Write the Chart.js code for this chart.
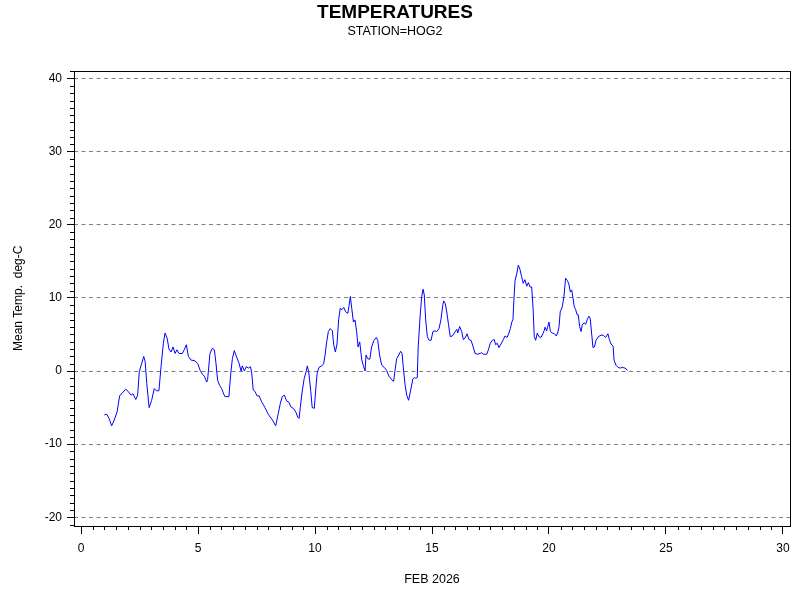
<!DOCTYPE html>
<html>
<head>
    <title>Temperatures</title>
    <script src="https://cdn.jsdelivr.net/npm/chart.js"></script>
    <style>
        body {
            margin: 0;
            background-color: #ffffff;
        }
        canvas {
            display: block;
        }
    </style>
</head>
<body>
    <canvas id="chart" width="800" height="600"></canvas>

    <script>
        // day of month (FEB 2026) and mean temperature
        const days = [
            1.00, 1.10, 1.20, 1.31, 1.42, 1.54, 1.65, 1.76, 1.91, 2.02, 2.14, 2.22, 2.34, 2.42, 2.49, 2.59, 2.68, 2.74, 2.81, 2.91,
            3.02, 3.13, 3.22, 3.33, 3.42, 3.52, 3.59, 3.68, 3.76, 3.85, 3.93, 4.02, 4.10, 4.19, 4.33, 4.41, 4.50, 4.59, 4.70, 4.87,
            4.99, 5.09, 5.18, 5.27, 5.37, 5.41, 5.51, 5.61, 5.70, 5.77, 5.84, 5.93, 6.01, 6.08, 6.15, 6.32, 6.40, 6.47, 6.55, 6.65,
            6.75, 6.84, 6.89, 6.98, 7.06, 7.15, 7.24, 7.29, 7.36, 7.44, 7.52, 7.61, 7.72, 7.86, 8.00, 8.18, 8.32, 8.43, 8.52, 8.60,
            8.69, 8.79, 8.89, 8.97, 9.07, 9.18, 9.26, 9.32, 9.37, 9.46, 9.54, 9.62, 9.67, 9.73, 9.82, 9.88, 9.97, 10.03, 10.09, 10.17,
            10.29, 10.37, 10.43, 10.50, 10.57, 10.65, 10.74, 10.80, 10.87, 10.94, 11.01, 11.08, 11.15, 11.23, 11.31, 11.40, 11.45, 11.51, 11.57, 11.64,
            11.71, 11.78, 11.84, 11.91, 12.00, 12.06, 12.14, 12.18, 12.25, 12.34, 12.42, 12.52, 12.62, 12.68, 12.76, 12.85, 12.96, 13.06, 13.16, 13.28,
            13.36, 13.42, 13.49, 13.58, 13.66, 13.72, 13.77, 13.85, 13.92, 14.00, 14.09, 14.18, 14.24, 14.30, 14.37, 14.41, 14.49, 14.56, 14.62, 14.67,
            14.73, 14.80, 14.88, 14.96, 15.04, 15.13, 15.20, 15.30, 15.38, 15.46, 15.50, 15.57, 15.63, 15.70, 15.78, 15.87, 15.95, 16.06, 16.10, 16.18,
            16.27, 16.34, 16.41, 16.50, 16.58, 16.67, 16.76, 16.84, 16.95, 17.05, 17.12, 17.21, 17.34, 17.41, 17.49, 17.58, 17.66, 17.72, 17.79, 17.86,
            17.95, 18.05, 18.12, 18.21, 18.29, 18.35, 18.41, 18.46, 18.50, 18.55, 18.62, 18.69, 18.76, 18.83, 18.90, 18.97, 19.05, 19.12, 19.19, 19.26,
            19.32, 19.37, 19.43, 19.50, 19.57, 19.66, 19.74, 19.80, 19.83, 19.90, 19.94, 20.00, 20.06, 20.14, 20.23, 20.31, 20.37, 20.43, 20.48, 20.57,
            20.64, 20.71, 20.78, 20.85, 20.91, 20.97, 21.03, 21.08, 21.14, 21.20, 21.25, 21.31, 21.37, 21.42, 21.50, 21.57, 21.64, 21.71, 21.76, 21.82,
            21.88, 21.94, 22.01, 22.11, 22.22, 22.32, 22.42, 22.52, 22.58, 22.65, 22.74, 22.78, 22.86, 22.95, 23.05, 23.13, 23.25, 23.36
        ];
        const temps = [
            -6.0, -5.9, -6.5, -7.5, -6.7, -5.6, -3.4, -3.0, -2.5, -2.8, -3.3, -3.1, -3.9, -3.3, -0.1, 1.0, 2.0, 1.3, -1.7, -5.0,
            -4.0, -2.4, -2.7, -2.7, 0.6, 3.8, 5.2, 4.5, 3.0, 2.6, 3.3, 2.4, 2.9, 2.4, 2.4, 2.9, 3.6, 2.0, 1.5, 1.4,
            1.0, 0.1, -0.4, -0.7, -1.5, -1.2, 2.4, 3.1, 2.9, 1.0, -1.3, -2.0, -2.4, -3.0, -3.5, -3.5, -0.3, 1.7, 2.8, 1.9,
            1.1, 0.0, 0.7, 0.0, 0.6, 0.4, 0.6, -0.1, -2.6, -2.8, -3.4, -3.4, -4.2, -5.0, -5.9, -6.7, -7.5, -5.8, -4.4, -3.5,
            -3.3, -4.1, -4.3, -4.9, -5.1, -5.6, -6.3, -6.5, -5.0, -2.6, -1.0, -0.1, 0.7, -0.1, -2.8, -5.0, -5.1, -2.6, -0.3, 0.5,
            0.7, 1.0, 2.2, 4.0, 5.4, 5.8, 5.5, 3.6, 2.6, 3.7, 7.0, 8.6, 8.4, 8.7, 8.1, 7.9, 8.8, 10.2, 8.6, 6.7,
            7.0, 5.4, 3.3, 4.0, 1.5, 0.8, 0.0, 2.2, 1.7, 1.6, 3.3, 4.2, 4.6, 4.2, 2.2, 0.8, 0.5, 0.1, -0.7, -1.2,
            -1.4, 0.1, 1.7, 2.2, 2.7, 2.4, 0.6, -1.9, -3.3, -4.0, -2.6, -1.1, -0.9, -1.0, -0.9, 3.3, 7.4, 10.2, 11.2, 10.4,
            7.0, 4.7, 4.2, 4.2, 5.4, 5.5, 5.4, 5.8, 7.0, 9.0, 9.6, 9.2, 8.1, 6.5, 4.7, 4.8, 5.2, 5.7, 5.2, 6.1,
            5.4, 4.3, 4.5, 5.1, 4.3, 4.2, 3.3, 2.4, 2.3, 2.4, 2.5, 2.3, 2.3, 2.9, 3.8, 4.2, 4.3, 3.6, 3.8, 3.2,
            3.7, 4.3, 4.8, 4.6, 5.2, 5.8, 6.7, 7.0, 9.7, 12.4, 13.3, 14.5, 13.9, 12.9, 12.0, 12.5, 11.6, 12.1, 11.5, 11.5,
            8.6, 4.7, 4.2, 5.2, 4.7, 4.6, 5.1, 5.6, 6.0, 5.5, 6.0, 6.7, 5.4, 5.2, 5.1, 4.8, 5.2, 6.1, 8.1, 8.8,
            10.2, 12.7, 12.4, 11.9, 10.8, 11.1, 9.9, 8.8, 8.4, 7.7, 7.7, 6.1, 5.4, 6.3, 6.6, 6.4, 7.1, 7.5, 7.2, 5.2,
            3.2, 3.3, 4.2, 4.7, 4.9, 4.9, 4.6, 5.1, 4.3, 3.7, 3.4, 1.5, 0.8, 0.5, 0.4, 0.5, 0.4, 0.1
        ];

        const xTicks = [0, 5, 10, 15, 20, 25, 30];
        const yTicks = [-20, -10, 0, 10, 20, 30, 40];

        const FONT = "'Liberation Sans', Arial, sans-serif";

        // small minor tick marks + the black frame round the plot
        const frameAndMinorTicks = {
            id: 'frameAndMinorTicks',
            afterDraw(chart) {
                const ctx = chart.ctx;
                const area = chart.chartArea;
                const xs = chart.scales.x;
                const ys = chart.scales.y;
                ctx.save();
                ctx.strokeStyle = '#000';
                ctx.lineWidth = 1;
                ctx.beginPath();
                for (let v = 0; v <= 30; v += 0.5) {
                    if (v % 5 === 0) continue;
                    const px = Math.round(xs.getPixelForValue(v)) + 0.5;
                    ctx.moveTo(px, area.bottom);
                    ctx.lineTo(px, area.bottom + 4);
                }
                for (let v = Math.ceil(ys.min); v <= ys.max; v++) {
                    if (v % 10 === 0) continue;
                    const py = Math.round(ys.getPixelForValue(v)) + 0.5;
                    ctx.moveTo(area.left - 4, py);
                    ctx.lineTo(area.left, py);
                }
                ctx.stroke();
                const l = Math.round(area.left) + 0.5;
                const t = Math.round(area.top) + 0.5;
                const r = Math.round(area.right) + 0.5;
                const b = Math.round(area.bottom) + 0.5;
                ctx.strokeRect(l, t, r - l, b - t);
                ctx.restore();
            }
        };

        const ctx = document.getElementById('chart').getContext('2d');
        new Chart(ctx, {
            type: 'line',
            data: {
                datasets: [{
                    data: days.map((d, i) => ({ x: d, y: temps[i] })),
                    borderColor: '#0000ff',
                    borderWidth: 1,
                    pointRadius: 0,
                    tension: 0,
                    fill: false
                }]
            },
            options: {
                responsive: false,
                animation: false,
                layout: {
                    padding: { left: 0, right: 10, top: 0, bottom: 0 }
                },
                plugins: {
                    legend: { display: false },
                    tooltip: { enabled: false },
                    title: {
                        display: true,
                        text: 'TEMPERATURES',
                        color: '#000',
                        font: { family: FONT, size: 19, weight: 'bold' },
                        padding: { top: 1, bottom: 0 }
                    },
                    subtitle: {
                        display: true,
                        text: 'STATION=HOG2',
                        color: '#000',
                        font: { family: FONT, size: 12.5 },
                        padding: { top: 0, bottom: 31.8 }
                    }
                },
                scales: {
                    x: {
                        type: 'linear',
                        min: -0.3,
                        max: 30.3,
                        afterBuildTicks: axis => { axis.ticks = xTicks.map(v => ({ value: v })); },
                        afterFit: axis => { axis.height = 74; },
                        grid: {
                            drawOnChartArea: false,
                            tickLength: 8,
                            tickColor: '#000',
                            tickBorderDash: []
                        },
                        border: { display: false },
                        ticks: {
                            color: '#000',
                            font: { family: FONT, size: 12 },
                            padding: 7,
                            maxRotation: 0
                        },
                        title: {
                            display: true,
                            text: 'FEB 2026',
                            color: '#000',
                            font: { family: FONT, size: 12.5 },
                            padding: { top: 0, bottom: 12.5 }
                        }
                    },
                    y: {
                        type: 'linear',
                        min: -21.2,
                        max: 41.1,
                        afterBuildTicks: axis => { axis.ticks = yTicks.map(v => ({ value: v })); },
                        afterFit: axis => { axis.width = 74; },
                        grid: {
                            color: '#808080',
                            tickLength: 7,
                            tickColor: '#000',
                            tickBorderDash: []
                        },
                        border: { display: false, dash: [4, 3.5] },
                        ticks: {
                            color: '#000',
                            font: { family: FONT, size: 12 },
                            padding: 5
                        },
                        title: {
                            display: true,
                            text: 'Mean Temp.  deg-C',
                            color: '#000',
                            font: { family: FONT, size: 12 },
                            padding: { top: 11, bottom: 0 }
                        }
                    }
                }
            },
            plugins: [frameAndMinorTicks]
        });
    </script>
</body>
</html>
